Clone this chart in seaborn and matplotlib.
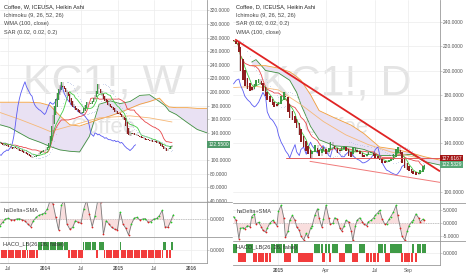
import numpy as np
import pandas as pd
import matplotlib
matplotlib.use('Agg')
import matplotlib.pyplot as plt
from matplotlib.lines import Line2D
from matplotlib.ticker import FuncFormatter
import matplotlib.transforms as mtrans
import seaborn as sns

sns.set_theme(style='white')
plt.rcParams['font.family'] = ['Liberation Sans', 'DejaVu Sans']

# ---------------- weekly chart (left) ----------------
w_legend = ['Coffee, W, ICEUSA, Heikin Ashi', 'Ichimoku (9, 26, 52, 26)',
            'WMA (100, close)', 'SAR (0.02, 0.02, 0.2)']
w_watermark = 'KC1!, W'
w_start = '2013-05-20'
w_close = [126, 124, 122, 121, 123, 121, 119, 120, 118, 117, 119, 118, 116, 115, 113,
           114, 112, 110, 111, 109, 107, 106, 105, 103, 104,
           106, 108, 107, 110, 112, 113, 115, 114, 117, 119,
           125, 135, 150, 166, 180, 190, 198, 204, 210, 215,
           208, 204, 200, 196, 194, 186, 181, 178, 176, 174,
           173, 171, 169, 167, 170, 176, 181, 185, 183, 182,
           184, 187, 191, 196, 201, 212, 205, 198, 194, 190,
           187, 185, 181, 179, 178, 176, 174, 171, 170, 168,
           168, 166, 164, 161, 159, 150, 139, 137, 135, 140,
           139, 137, 138, 136, 135, 134, 132, 133, 131, 130,
           130, 129, 128, 129, 127, 128, 127, 125, 126, 124,
           121, 119, 117, 116, 114, 116, 118, 121, 122.55]
w_last = 122.55
w_hadelta = [-0.4, -0.2, 0.0, 0.05, -0.05, -0.06, 0.0, 0.02, -0.05, -0.12,
             -0.3, -0.45, -0.1, 0.1, 0.22, 0.28, 0.35, 0.6, 1.1, 0.9,
             0.1, -0.65, 0.8, 1.1, -0.3, -0.6, -0.5, -0.1, -0.2, -0.25,
             0.6, 1.1, 0.3, -0.45, 0.2, 1.1, 1.0, -0.9, -0.1, -0.3,
             -0.5, -0.6, -0.65, 0.4, -0.3, -0.55, -0.95, -0.3, 0.05, 0.1,
             -0.06, 0.0, 0.02, -0.2, -0.15, 0.0, 0.03, 0.2, 0.5, -0.45,
             -0.5, -0.15, 0.25]
w_haco_runs = [(-1, 19), (1, 1), (-1, 8), (1, 21), (-1, 11), (1, 9), (-1, 2), (1, 4),
               (-1, 11), (1, 1), (-1, 30), (1, 2), (-1, 4), (1, 1)]
w_cloud_idx = [0, 7, 14, 21, 29, 36, 43, 50, 57, 64, 71, 79, 86, 93, 100, 107, 114,
               118, 121, 126, 134, 141, 148]
w_span_a = [152, 148, 140, 132, 126, 120, 115, 113, 112, 135, 182, 187, 183, 186, 195,
            196, 186, 180, 172, 167, 155, 145, 140]
w_span_b = [185, 185, 185, 185, 184, 180, 165, 152, 150, 155, 160, 165, 170, 176, 182,
            186, 191, 182, 178, 177, 177, 176, 176]
w_wma_idx = [0, 14, 29, 36, 43, 50, 62, 71, 93, 107, 123]
w_wma = [170, 160, 148, 142, 146, 150, 157, 162, 165, 162, 156]
w_price_ticks = [40, 60, 80, 100, 140, 160, 180, 200, 220, 240, 260, 280, 300, 320]
w_xticks = ['2013-07-01', '2014-01-01', '2014-07-01', '2015-01-01', '2015-07-01', '2016-01-01']
w_xlabels = ['Jul', '2014', 'Jul', '2015', 'Jul', '2016']

# ---------------- daily chart (right) ----------------
d_legend = ['Coffee, D, ICEUSA, Heikin Ashi', 'Ichimoku (9, 26, 52, 26)',
            'SAR (0.02, 0.02, 0.2)', 'WMA (100, close)']
d_watermark = 'KC1!, D'
d_start = '2014-10-10'
d_close = [224, 222, 215, 200, 192, 187, 185, 183, 184, 189,
           192, 193, 188, 183, 179, 176, 174, 172, 170, 171,
           174, 179, 182, 178, 166, 161, 159, 157, 153, 147,
           141, 137, 134, 131, 128, 134, 139, 133, 130, 135,
           137, 131, 136, 141, 138, 135, 132, 134, 137, 138,
           134, 130, 129, 137, 136, 133, 131, 129, 129, 131,
           133, 133, 130, 128, 127, 126, 124, 124, 125, 126,
           128, 131, 135, 137, 131, 124, 120, 118, 117, 116,
           115, 114, 115, 118, 121, 122.53]
d_hadelta = [2.5, 1.0, -6.0, -2.0, -1.8, -2.2, -1.0, -1.5, 2.5, 3.5,
             -0.3, 0.3, -1.5, -2.8, -3.5, -2.0, 0.0, 1.0, 0.5, -1.0,
             4.5, 6.8, 2.0, -5.5, -3.0, 1.0, 2.9, 1.0, -1.5, -2.8,
             -5.0, -6.5, -4.0, -5.4, -2.0, -1.0, 3.0, 5.5, 2.0, -1.5,
             1.5, 6.8, 2.0, -0.5, 0.0, 2.0, 1.5, -2.0, -3.0, -1.0,
             1.0, 0.5, -3.0, -6.7, -1.0, 1.0, 2.0, 0.5, -0.5, -1.0,
             0.5, 1.0, 2.0, 3.0, 4.0, 4.9, 1.5, -0.5, -0.3, 1.5,
             2.5, 4.2, 6.8, 3.0, -2.0, -5.0, -6.7, -3.0, -1.0, 0.5,
             1.0, 3.5, 2.0, 0.5, 1.5, 1.0]
d_haco_runs = [(1, 2), (-1, 4), (1, 3), (-1, 8), (1, 6), (-1, 3), (1, 3), (-1, 7), (1, 4),
               (-1, 1), (1, 2), (-1, 1), (1, 3), (-1, 3), (1, 3), (-1, 3), (1, 3), (-1, 6),
               (1, 3), (-1, 2), (1, 5), (-1, 5), (1, 1), (-1, 1), (1, 4)]
d_cloud_idx = [8, 10, 14, 20, 25, 28, 30, 34, 38, 45, 52, 58, 65, 72, 79, 85, 92]
d_span_a = [207, 209, 200, 198, 192, 182, 172, 154, 143, 138, 137, 135, 130, 130, 131, 125, 122]
d_span_b = [204, 204, 204, 202, 199, 195, 192, 180, 167, 161, 155, 148, 137, 135, 132, 129, 126]
d_wma_idx = [0, 10, 20, 30, 40, 50, 60, 70, 85]
d_wma = [186, 187, 184, 172, 158, 147, 139, 133, 127]
d_trend_dates = ['2014-10-13', '2015-10-31']
d_trend_vals = [225.6, 117.0]
d_support_dates = ['2015-03-02', '2015-10-31']
d_support_vals = [125.2, 107.9]
d_hline_dates = ['2015-01-16', '2015-10-31']
d_hline_val = 127.6167
d_last = 122.5329
d_price_ticks = [100, 140, 160, 180, 200, 220, 240]
d_xticks = ['2015-01-01', '2015-04-01', '2015-07-01', '2015-09-01']
d_xlabels = ['2015', 'Apr', 'Jul', 'Sep']

# ---------------- colours ----------------
C_UP, C_DN, C_WICK = '#3a9a44', '#8e2020', '#5a3a3a'
C_LAG, C_TK, C_KJ = '#5a5af2', '#44cc44', '#e8474a'
C_SA, C_SB, C_WMA = '#3f8f3f', '#f29d38', '#f6b877'
C_SAR, C_CLOUD = '#3b58b0', '#e9e1f3'
C_GRID, C_SEP, C_TXT = '#ececec', '#9a9a9a', '#555555'
C_HGREEN, C_HRED = '#3f9b46', '#f23c3c'
LBL = 3.5

W, H = 466, 275
fig = plt.figure(figsize=(W / 100, H / 100), dpi=100)


def add_ax(x, y, w, h):
    return fig.add_axes([x / W, 1 - (y + h) / H, w / W, h / H])


def heikin(close):
    c = np.asarray(close, float)
    o = np.empty_like(c)
    o[0] = c[0] + 1
    for i in range(1, len(c)):
        o[i] = (o[i - 1] + c[i - 1]) / 2
    prev = np.r_[c[0], c[:-1]]
    hi = np.maximum.reduce([o, c, prev])
    lo = np.minimum.reduce([o, c, prev])
    return o, c, hi, lo


def midline(h, l, n):
    return ((pd.Series(h).rolling(n, min_periods=1).max() +
             pd.Series(l).rolling(n, min_periods=1).min()) / 2).values


def psar(high, low, af0=0.02, step=0.02, afmax=0.2):
    n = len(high)
    sar = np.zeros(n)
    bull = False
    af = af0
    ep = low[0]
    sar[0] = high[0]
    for i in range(1, n):
        prev = sar[i - 1]
        s = prev + af * (ep - prev)
        if bull:
            s = min(s, low[i - 1], low[max(i - 2, 0)])
            if low[i] < s:
                bull, s, ep, af = False, ep, low[i], af0
            elif high[i] > ep:
                ep, af = high[i], min(af + step, afmax)
        else:
            s = max(s, high[i - 1], high[max(i - 2, 0)])
            if high[i] > s:
                bull, s, ep, af = True, ep, high[i], af0
            elif low[i] < ep:
                ep, af = low[i], min(af + step, afmax)
        sar[i] = s
    return sar


def style(ax, xlim, xticks, yticks, ylim):
    ax.set_facecolor('white')
    ax.set_xlim(pd.Timestamp(xlim[0]), pd.Timestamp(xlim[1]))
    ax.set_ylim(*ylim)
    ax.set_xticks(pd.to_datetime(xticks))
    ax.set_yticks(yticks)
    ax.yaxis.tick_right()
    ax.yaxis.set_major_formatter(FuncFormatter(lambda v, p: f'{v:.4f}'))
    ax.tick_params(axis='y', labelsize=LBL, labelcolor=C_TXT, color='#aaaaaa',
                   length=1.5, width=0.4, pad=0.8, right=True, left=False)
    ax.tick_params(axis='x', length=0, labelbottom=False, bottom=False)
    for s in ['left', 'top', 'bottom']:
        ax.spines[s].set_visible(False)
    ax.spines['right'].set_color(C_SEP)
    ax.spines['right'].set_linewidth(0.6)
    ax.grid(True, color=C_GRID, lw=0.5)
    ax.set_axisbelow(True)


def finish(ax):
    ax.set_xlabel('')
    ax.set_ylabel('')


def runs_to_values(runs):
    return np.concatenate([np.full(n, v, float) for v, n in runs])


def draw_chart(x0, ys, data):
    (close, dates, ext, step, hd, hd_dates, haco, cidx, sa, sb, widx, wma,
     xlim, xticks, xlabels, pticks, pylim, hd_ticks, hd_ylim, haco_ylim,
     periods, watermark, legend) = data
    ax_p = add_ax(x0, ys[0], 207, ys[1] - ys[0])
    ax_d = add_ax(x0, ys[1], 207, ys[2] - ys[1])
    ax_h = add_ax(x0, ys[2], 207, ys[3] - ys[2])

    # ---- price pane ----
    style(ax_p, xlim, xticks, pticks, pylim)
    ax_p.text(0.5, 0.59, watermark, transform=ax_p.transAxes, ha='center', va='center',
              fontsize=31, color='#e4e4e4', zorder=0)
    ax_p.text(0.5, 0.37, 'Coffee', transform=ax_p.transAxes, ha='center', va='center',
              fontsize=16, color='#e4e4e4', zorder=0)
    o, c, hi, lo = heikin(close)
    tk_n, kj_n, lag_n = periods
    tk = midline(hi, lo, tk_n)
    kj = midline(hi, lo, kj_n)
    ext = pd.DatetimeIndex(ext)
    cd = ext[np.array(cidx)]
    ax_p.fill_between(cd, sa, sb, color=C_CLOUD, lw=0, zorder=1)
    sns.lineplot(x=cd, y=sa, ax=ax_p, color=C_SA, lw=0.6, zorder=2)
    sns.lineplot(x=cd, y=sb, ax=ax_p, color=C_SB, lw=0.6, zorder=2)
    sns.lineplot(x=ext[np.array(widx)], y=wma, ax=ax_p, color=C_WMA, lw=0.6, zorder=2)
    sns.lineplot(x=dates[:-lag_n], y=c[lag_n:], ax=ax_p, color=C_LAG, lw=0.6, zorder=2)
    sns.lineplot(x=dates, y=kj, ax=ax_p, color=C_KJ, lw=0.6, zorder=2)
    sns.lineplot(x=dates, y=tk, ax=ax_p, color=C_TK, lw=0.6, zorder=2)
    up = c >= o
    body_lo = np.minimum(o, c)
    body_h = np.maximum(np.abs(c - o), 0.4)
    ax_p.vlines(dates, lo, hi, color=C_WICK, lw=0.3, zorder=3)
    ax_p.bar(dates, body_h, bottom=body_lo, width=step * 0.7,
             color=np.where(up, C_UP, C_DN), lw=0, zorder=3)
    sar = psar(hi, lo)
    sns.scatterplot(x=dates[1:], y=sar[1:], ax=ax_p, color=C_SAR, s=0.25, lw=0,
                    alpha=0.9, zorder=4)
    finish(ax_p)
    for k, t in enumerate(legend):
        fig.text((x0 + 3.5) / W, 1 - (6.7 + 8.5 * k) / H, t, fontsize=4.1,
                 color='#222222' if k == 0 else '#444444', va='center', ha='left')

    # ---- haDelta pane ----
    style(ax_d, xlim, xticks, hd_ticks, hd_ylim)
    hd = np.asarray(hd, float)
    hd_dates = pd.DatetimeIndex(hd_dates)
    ax_d.axhline(0, color='#9a9a9a', lw=0.5, ls=(0, (1, 1.5)), zorder=1)
    ax_d.fill_between(hd_dates, hd, 0, color='#f6c9c9', alpha=0.6, lw=0, zorder=1)
    sns.lineplot(x=hd_dates, y=hd, ax=ax_d, color='#7a7a7a', lw=0.6, zorder=2)
    rising = np.r_[True, np.diff(hd) > 0]
    sns.scatterplot(x=hd_dates[rising], y=hd[rising], ax=ax_d, color='#22cc22', s=1.6,
                    lw=0, zorder=3)
    sns.scatterplot(x=hd_dates[~rising], y=hd[~rising], ax=ax_d, color='#dd2222', s=1.6,
                    lw=0, zorder=3)
    ax_d.text(3.5 / 207, 0.77, 'haDelta+SMA', transform=ax_d.transAxes, fontsize=4.1,
              color='#444444', va='center')
    finish(ax_d)

    # ---- HACO pane ----
    style(ax_h, xlim, xticks, [0], haco_ylim)
    hv = runs_to_values(haco)
    ax_h.bar(dates, hv, width=step, color=np.where(hv > 0, C_HGREEN, C_HRED), lw=0, zorder=2)
    ax_h.text(3.5 / 207, 0.73, 'HACO_LB(26, 26, false)', transform=ax_h.transAxes,
              fontsize=4.1, color='#333333', va='center', zorder=5)
    ax_h.tick_params(axis='x', labelbottom=True, labelsize=LBL, labelcolor=C_TXT, pad=2.5)
    ax_h.set_xticklabels(xlabels)
    for lab in ax_h.get_xticklabels():
        if lab.get_text().isdigit():
            lab.set_fontweight('bold')
    ax_h.spines['bottom'].set_visible(True)
    ax_h.spines['bottom'].set_color(C_SEP)
    ax_h.spines['bottom'].set_linewidth(0.6)
    finish(ax_h)
    return ax_p, ax_d, ax_h


def price_tag(ax, val, text, color):
    trans = mtrans.blended_transform_factory(ax.transAxes, ax.transData)
    ax.text(1.006, val, text, transform=trans, fontsize=LBL, color='white', va='center',
            ha='left', zorder=10, clip_on=False,
            bbox=dict(boxstyle='square,pad=0.2', fc=color, ec='none'))


# ---- left chart ----
w_dates = pd.date_range(w_start, periods=len(w_close), freq='7D')
w_ext = pd.date_range(w_start, periods=170, freq='7D')
w_hd_dates = pd.date_range(w_start, periods=len(w_hadelta), freq='14D')
lp, ld, lh = draw_chart(0, [0, 202, 237, 263], (
    w_close, w_dates, w_ext, 7, w_hadelta, w_hd_dates, w_haco_runs, w_cloud_idx,
    w_span_a, w_span_b, w_wma_idx, w_wma, ('2013-05-21', '2016-03-21'), w_xticks,
    w_xlabels, w_price_ticks, (38.5, 335.1), [0], (-1.06, 1.0), (-1.6, 1.6),
    (9, 26, 26), w_watermark, w_legend))
price_tag(lp, w_last, f'{w_last:.4f}', '#4f9a6a')

# ---- right chart ----
d_bdays = pd.bdate_range(d_start, periods=100 * 3)
d_ext = d_bdays[::3]
d_dates = d_ext[:len(d_close)]
rp, rd, rh = draw_chart(233, [0, 203, 241, 265], (
    d_close, d_dates, d_ext, 4.2, d_hadelta, d_dates, d_haco_runs, d_cloud_idx,
    d_span_a, d_span_b, d_wma_idx, d_wma, ('2014-10-09', '2015-10-31'), d_xticks,
    d_xlabels, d_price_ticks, (90.9, 258.1), [-5, 0, 5], (-6.9, 7.7), (-1.33, 1.33),
    (3, 9, 9), d_watermark, d_legend))
rp.plot(pd.to_datetime(d_trend_dates), d_trend_vals, color='#e02424', lw=1.3, zorder=6,
        solid_capstyle='butt')
rp.plot(pd.to_datetime(d_support_dates), d_support_vals, color='#f07a7a', lw=0.7, zorder=6)
rp.plot(pd.to_datetime(d_hline_dates), [d_hline_val] * 2, color='#e05a5a', lw=0.7, zorder=6)
price_tag(rp, d_hline_val, f'{d_hline_val:.4f}', '#a31515')
price_tag(rp, d_last, f'{d_last:.4f}', '#5aa878')

# pane separators across label columns
for xa, xb, ys in [(0, 232, [202, 237]), (233, 466, [203, 241])]:
    for y in ys:
        fig.add_artist(Line2D([xa / W, xb / W], [1 - y / H] * 2, color=C_SEP, lw=0.6))

fig.savefig('out.png', dpi=100)
